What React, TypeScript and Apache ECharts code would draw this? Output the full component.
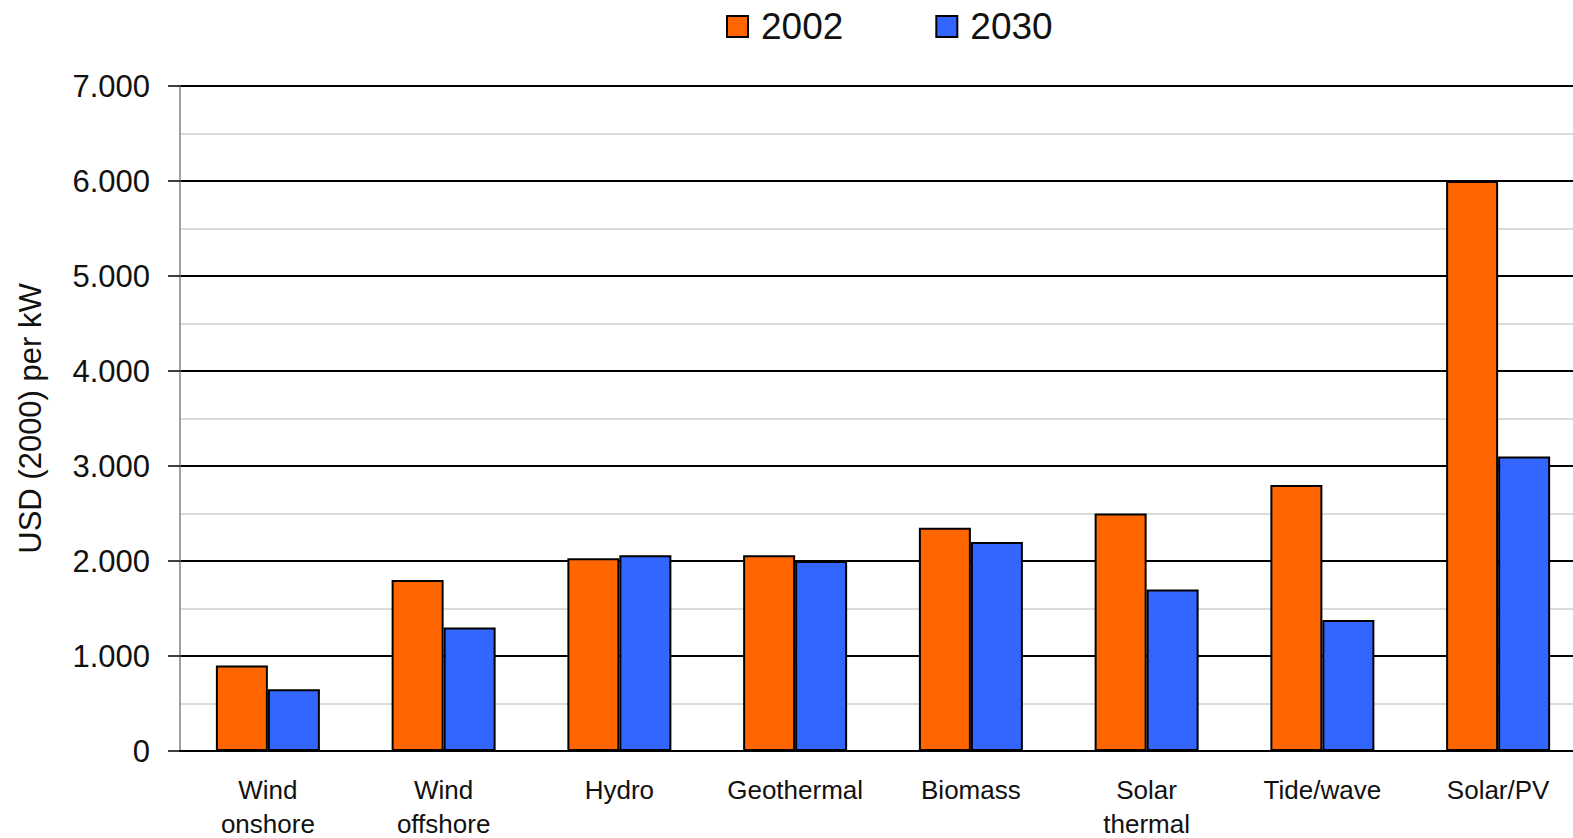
import React, { useEffect, useRef } from "react";
import * as echarts from "echarts";

const categories = [
  "Wind\nonshore",
  "Wind\noffshore",
  "Hydro",
  "Geothermal",
  "Biomass",
  "Solar\nthermal",
  "Tide/wave",
  "Solar/PV",
];
const values2002 = [900, 1800, 2030, 2060, 2350, 2500, 2800, 6000];
const values2030 = [650, 1300, 2060, 2000, 2200, 1700, 1380, 3100];
const seriesNames = ["2002", "2030"];
const seriesColors = ["#FF6600", "#3366FF"];

const FONT = "'Liberation Sans', Arial, sans-serif";

const formatThousands = (v: number) =>
  v === 0 ? "0" : String(v).replace(/\B(?=(\d{3})+(?!\d))/g, ".");

export default function App() {
  const ref = useRef<HTMLDivElement>(null);

  useEffect(() => {
    if (!ref.current) return;
    const chart = echarts.init(ref.current, undefined, { renderer: "svg" });
    chart.setOption({
      animation: false,
      backgroundColor: "#ffffff",
      textStyle: { fontFamily: FONT },
      legend: {
        top: 3,
        left: 721,
        itemWidth: 21,
        itemHeight: 21,
        itemGap: 92,
        icon: "rect",
        textStyle: {
          fontSize: 37,
          color: "#111",
          fontFamily: FONT,
          padding: [0, 0, 0, 8],
        },
        data: seriesNames,
      },
      grid: {
        left: 180,
        right: 14,
        top: 86,
        bottom: 87,
        outerBoundsMode: "none",
        containLabel: false,
      },
      xAxis: {
        type: "category",
        data: categories,
        axisTick: { show: false },
        axisLine: { lineStyle: { color: "#000", width: 2 } },
        axisLabel: {
          interval: 0,
          fontSize: 26,
          lineHeight: 34,
          color: "#111",
          margin: 22,
          fontFamily: FONT,
        },
      },
      yAxis: {
        type: "value",
        min: 0,
        max: 7000,
        interval: 1000,
        name: "USD (2000) per kW",
        nameLocation: "middle",
        nameRotate: 90,
        nameGap: 134,
        nameTextStyle: { fontSize: 31, color: "#111", fontFamily: FONT },
        axisLine: { show: true, lineStyle: { color: "#808080", width: 1.5 } },
        axisTick: { show: true, length: 12, lineStyle: { color: "#000", width: 1.5 } },
        axisLabel: {
          fontSize: 31,
          color: "#111",
          margin: 30,
          padding: [0, 0, 8, 0],
          fontFamily: FONT,
          formatter: (v: number) => formatThousands(v),
        },
        splitLine: { show: true, lineStyle: { color: "#000", width: 2 } },
        minorTick: { show: false, splitNumber: 2 },
        minorSplitLine: { show: true, lineStyle: { color: "#cfcfcf", width: 1.5 } },
      },
      series: [
        {
          name: seriesNames[0],
          type: "bar",
          data: values2002,
          barWidth: 52,
          barGap: "0%",
          itemStyle: { color: seriesColors[0], borderColor: "#000", borderWidth: 2 },
        },
        {
          name: seriesNames[1],
          type: "bar",
          data: values2030,
          barWidth: 52,
          barGap: "0%",
          itemStyle: { color: seriesColors[1], borderColor: "#000", borderWidth: 2 },
        },
      ],
    });
    return () => chart.dispose();
  }, []);

  return (
    <div
      style={{
        position: "fixed",
        left: 0,
        top: 0,
        width: 1573,
        height: 838,
        overflow: "hidden",
        background: "#fff",
      }}
    >
      <div ref={ref} style={{ width: 1600, height: 838 }} />
    </div>
  );
}
